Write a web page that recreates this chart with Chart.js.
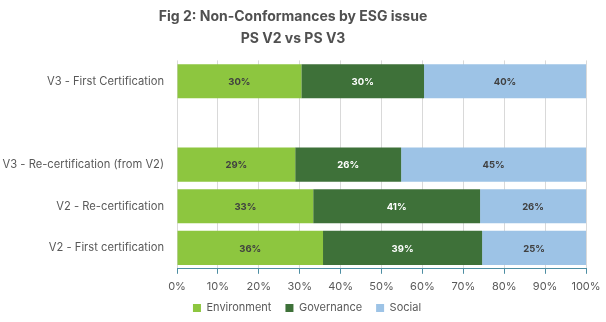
<!DOCTYPE html>
<html>
<head>
<meta charset="utf-8">
<script src="https://cdn.jsdelivr.net/npm/chart.js@4"></script>
<style>
  html, body { margin: 0; padding: 0; background: #fff; }
  #wrap { width: 606px; height: 322px; }
</style>
</head>
<body>
<div id="wrap"><canvas id="myChart" width="606" height="322"></canvas></div>
<script>
const categories = ['V3 - First Certification', '', 'V3 - Re-certification (from V2)', 'V2 - Re-certification', 'V2 - First certification'];
const environment = [30.4, null, 28.9, 33.3, 35.7];
const governance  = [30.0, null, 25.9, 40.8, 38.9];
const social      = [39.6, null, 45.2, 25.9, 25.4];
const xTicks = [0, 10, 20, 30, 40, 50, 60, 70, 80, 90, 100];

const FONT = 'Inter, "Open Sans", sans-serif';
const LEGEND_Y = 308;     // centre line of the legend row
const LEGEND_SPACE = 23;  // room kept for it under the axis

// draw the % in the middle of each segment
const barLabels = {
    id: 'barLabels',
    afterDatasetsDraw(chart) {
        const c = chart.ctx;
        c.save();
        c.font = 'bold 9.5px ' + FONT;
        c.textAlign = 'center';
        c.textBaseline = 'middle';
        chart.data.datasets.forEach((ds, i) => {
            const meta = chart.getDatasetMeta(i);
            meta.data.forEach((bar, j) => {
                const v = ds.data[j];
                if (v == null) return;
                const mid = (bar.x + bar.base) / 2;
                c.fillStyle = ds.labelColor;
                c.fillText(Math.round(v) + '%', mid, bar.y + 1);
            });
        });
        c.restore();
    }
};

// legend: smaller box in the layout, centred on the whole canvas
const legendPlace = {
    id: 'legendPlace',
    afterInit(chart) {
        const lg = chart.legend;
        const fit = lg.fit;
        lg.fit = function () {
            fit.call(this);
            this.height = LEGEND_SPACE;
        };
    },
    afterLayout(chart) {
        const lg = chart.legend;
        const pad = lg.options.labels.padding;
        lg.left = 8;
        lg.right = chart.width;
        lg.width = chart.width - 8;
        lg.top = LEGEND_Y - 5.5 - pad;
    }
};

const ctx = document.getElementById('myChart').getContext('2d');

let chart = new Chart(ctx, {
    type: 'bar',
    data: {
        labels: categories,
        datasets: [{
            label: 'Environment',
            data: environment,
            backgroundColor: '#8dc63f',
            labelColor: '#404040'
        }, {
            label: 'Governance',
            data: governance,
            backgroundColor: '#3e7139',
            labelColor: '#ffffff'
        }, {
            label: 'Social',
            data: social,
            backgroundColor: '#9dc3e6',
            labelColor: '#404040'
        }]
    },
    options: {
        indexAxis: 'y',
        responsive: false,
        animation: false,
        barPercentage: 0.82,
        categoryPercentage: 1,
        layout: { padding: { left: 0, right: 20, top: 0, bottom: 0 } },
        scales: {
            x: {
                stacked: true,
                min: 0,
                max: 100,
                afterBuildTicks: axis => { axis.ticks = xTicks.map(v => ({ value: v })); },
                afterFit: axis => { axis.paddingLeft = 0; axis.paddingRight = 0; },
                ticks: {
                    callback: v => v + '%',
                    color: '#595959',
                    font: { family: FONT, size: 11 },
                    padding: 6
                },
                grid: { color: '#d9d9d9', tickColor: '#4d8ea3', tickLength: 5 },
                border: { color: '#4d8ea3', width: 1 }
            },
            y: {
                stacked: true,
                afterFit: axis => { axis.width = 177; },
                ticks: {
                    color: '#595959',
                    font: { family: FONT, size: 11.2 },
                    padding: 5
                },
                grid: { display: false },
                border: { display: false }
            }
        },
        plugins: {
            title: {
                display: true,
                text: ['Fig 2: Non-Conformances by ESG issue', 'PS V2 vs PS V3'],
                color: '#505050',
                font: { family: FONT, size: 14, weight: 'bold', lineHeight: 1.55 },
                padding: { top: 6, bottom: 11 }
            },
            legend: {
                position: 'bottom',
                labels: {
                    boxWidth: 8,
                    boxHeight: 8,
                    color: '#595959',
                    font: { family: FONT, size: 11 },
                    padding: 14
                }
            },
            tooltip: { enabled: false }
        }
    },
    plugins: [barLabels, legendPlace]
});
</script>
</body>
</html>
